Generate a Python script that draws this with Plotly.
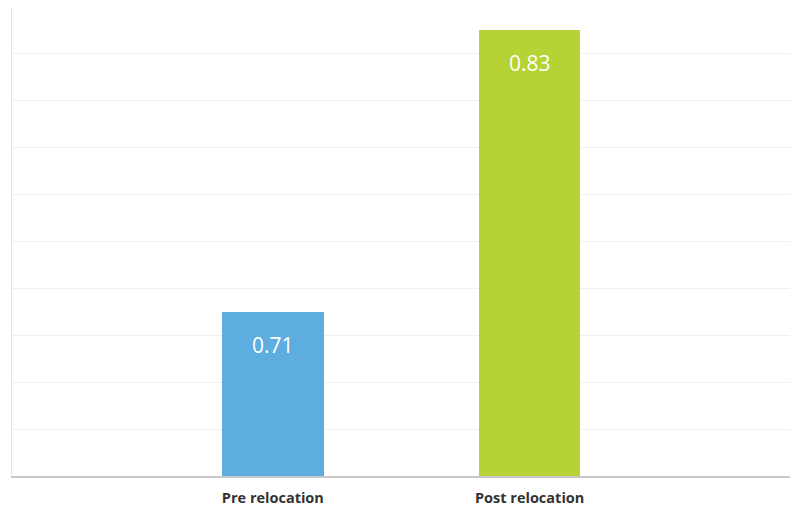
import plotly.graph_objects as go

# Mean scores before and after relocation
categories = ["Pre relocation", "Post relocation"]
values = [0.71, 0.83]
bar_colors = ["#5DADE0", "#B5D334"]

positions = list(range(len(categories)))

fig = go.Figure()
fig.add_trace(go.Bar(
    x=positions,
    y=values,
    width=0.395,
    marker=dict(color=bar_colors, line=dict(width=0)),
    hoverinfo="skip",
))

# value labels inside the top of each bar
for xpos, v in zip(positions, values):
    fig.add_annotation(
        x=xpos, y=v, text=f"{v:.2f}", showarrow=False,
        yanchor="top", yshift=-17,
        font=dict(family="Open Sans, Noto Sans, sans-serif", size=21, color="white"),
    )

fig.update_layout(
    width=793, height=506,
    margin=dict(l=12, r=3, t=7, b=30, autoexpand=False),
    paper_bgcolor="white", plot_bgcolor="white",
    showlegend=False,
    bargap=0,
)
fig.update_xaxes(
    range=[-1.016, 2.014], automargin=False,
    tickmode="array", tickvals=positions, ticktext=[f"<b>{c}</b>" for c in categories],
    tickfont=dict(family="Open Sans, Noto Sans, sans-serif", size=14.5, color="#333333"),
    ticks="outside", ticklen=8, tickcolor="rgba(0,0,0,0)",
    showline=True, linecolor="#C9C9C9", linewidth=2,
    showgrid=False, zeroline=False,
)
fig.update_yaxes(
    range=[0.64, 0.84], dtick=0.02, tick0=0.64, automargin=False,
    showticklabels=False, ticks="",
    showgrid=True, gridcolor="#EFEFEF", gridwidth=1,
    showline=True, linecolor="#E2E2E2", linewidth=1,
    zeroline=False,
)

fig.write_html("out.html")
